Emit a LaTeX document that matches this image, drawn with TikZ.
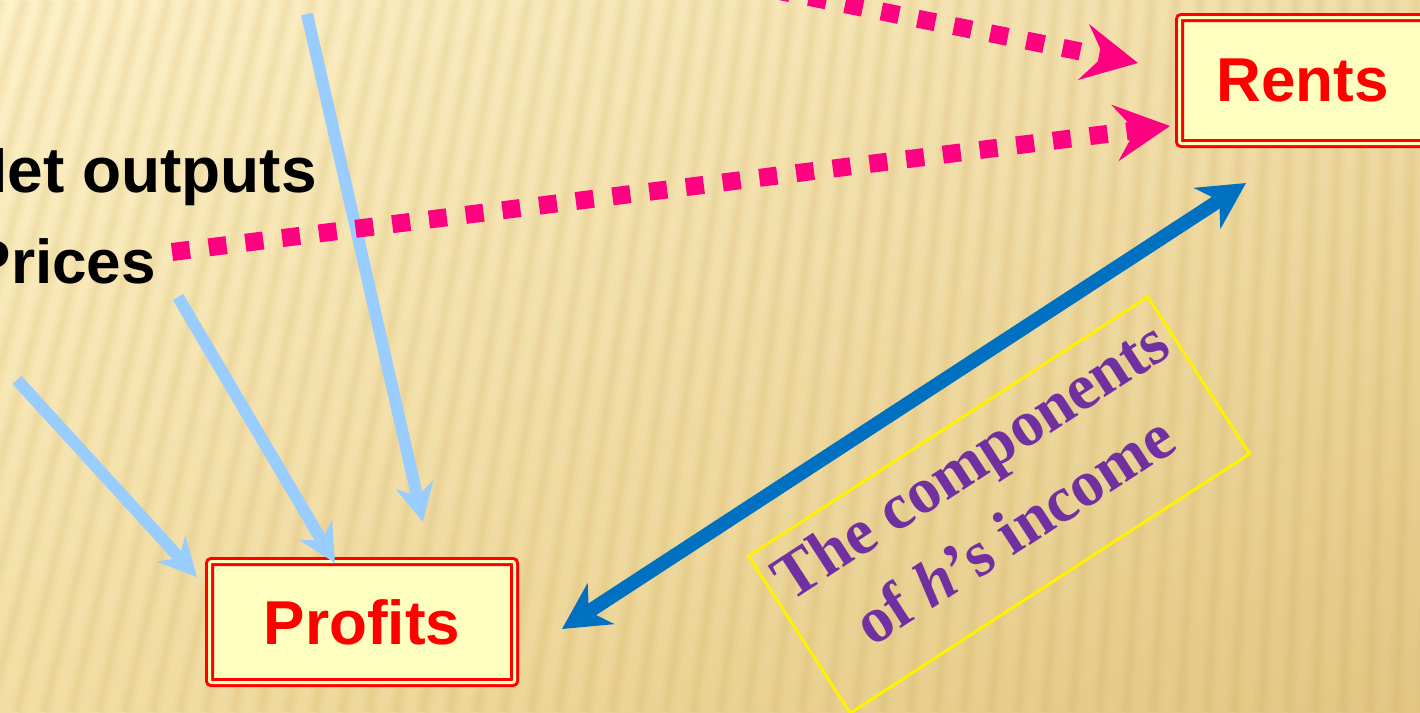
\documentclass[tikz,border=0pt]{standalone}
\usepackage{fontspec}
\setmainfont{Liberation Serif}
\setsansfont{Liberation Sans}
\usetikzlibrary{arrows.meta,shadings}
\definecolor{pinkc}{HTML}{FF0080}
\definecolor{lblue}{HTML}{99CCFF}
\definecolor{dblue}{HTML}{0070C0}
\definecolor{purp}{HTML}{7030A0}
\definecolor{boxfill}{HTML}{FFFFC0}
\definecolor{bgUL}{HTML}{FDF1C8}
\definecolor{bgUR}{HTML}{F0DDA8}
\definecolor{bgLL}{HTML}{F2DEA4}
\definecolor{bgLR}{HTML}{E2C682}
\definecolor{stripec}{HTML}{C9A048}
\begin{document}
\begin{tikzpicture}[x=1pt,y=-1pt,
  stripeA/.style={draw=stripec,opacity=0.04,line width=16pt},
  stripeB/.style={draw=stripec,opacity=0.05,line width=10pt},
  stripeC/.style={draw=stripec,opacity=0.06,line width=5pt},
  labeltext/.style={font=\sffamily\bfseries\fontsize{64}{72}\selectfont,inner sep=0pt},
  redbox/.style={draw=red,line width=3pt,double=boxfill,double distance=3pt,fill=boxfill,
    rounded corners=2pt,inner sep=0pt,text=red,font=\sffamily\bfseries\fontsize{62}{70}\selectfont},
  pinkarrow/.style={draw=pinkc,line width=18pt,dash pattern=on 18pt off 19pt,
    -{Stealth[length=55pt,width=56pt,inset=20pt]}},
  lbarrow/.style={draw=lblue,line width=12pt,-{Stealth[length=38pt,width=38pt,inset=12pt]}},
  dbarrow/.style={draw=dblue,line width=14pt,
    {Stealth[length=46pt,width=48pt,inset=14pt]}-{Stealth[length=46pt,width=48pt,inset=14pt]}},
  purpletext/.style={text=purp,font=\bfseries\fontsize{65}{74}\selectfont,inner sep=0pt,rotate=33,anchor=base},
  ybox/.style={draw=yellow,line width=3pt,rotate=33,minimum width=476pt,minimum height=187pt,inner sep=0pt}
]
\useasboundingbox (0,0) rectangle (1420,712);
\begin{scope}
\clip (0,0) rectangle (1420,712);
% background
\shade[upper left=bgUL,upper right=bgUR,lower left=bgLL,lower right=bgLR] (0,0) rectangle (1420,712);
\foreach \i in {-12,...,66}{
  \pgfmathsetmacro\xt{\i*24}
  \pgfmathsetmacro\xb{\xt-(1568-\xt)*0.127}
  \draw[stripeA] (\xt,0) -- (\xb,712);
  \draw[stripeB] (\xt,0) -- (\xb,712);
  \draw[stripeC] (\xt,0) -- (\xb,712);
}
% text labels
\node[labeltext,anchor=base east] (netout) at (317,192) {Net outputs};
\node[labeltext,anchor=base east,font=\sffamily\bfseries\fontsize{62}{70}\selectfont] (prices) at (156,283) {Prices};
% boxes
\node[redbox,minimum width=305pt,minimum height=121pt] (profits) at (362,622) {Profits};
\node[redbox,minimum width=246pt,minimum height=126pt] (rents) at (1302.5,80.5) {Rents};
% yellow box and its text
\node[ybox] (yb) at (999,505) {};
\node[purpletext] (tl1) at (982,478) {The components};
\node[purpletext] (tl2) at (1026,548) {of \textit{h}’s income};
% coordinates
\coordinate (pkAs) at (700,-25);
\coordinate (pkAe) at (1138,63);
\coordinate (pkBs) at (172,252);
\coordinate (pkBe) at (1170,126);
\coordinate (lb1s) at (17,380);
\coordinate (lb1e) at (197,577);
\coordinate (lb2s) at (178,297);
\coordinate (lb2e) at (335,563);
\coordinate (lb3s) at (307,14);
\coordinate (lb3e) at (423,522);
\coordinate (dbA) at (562,629);
\coordinate (dbB) at (1246,183);
% connectors
\draw[lbarrow] (lb3s) -- (lb3e);
\draw[pinkarrow] (pkAs) -- (pkAe);
\draw[pinkarrow] (pkBs) -- (pkBe);
\draw[lbarrow] (lb1s) -- (lb1e);
\draw[lbarrow] (lb2s) -- (lb2e);
\draw[dbarrow] (dbA) -- (dbB);
\end{scope}
\end{tikzpicture}
\end{document}
